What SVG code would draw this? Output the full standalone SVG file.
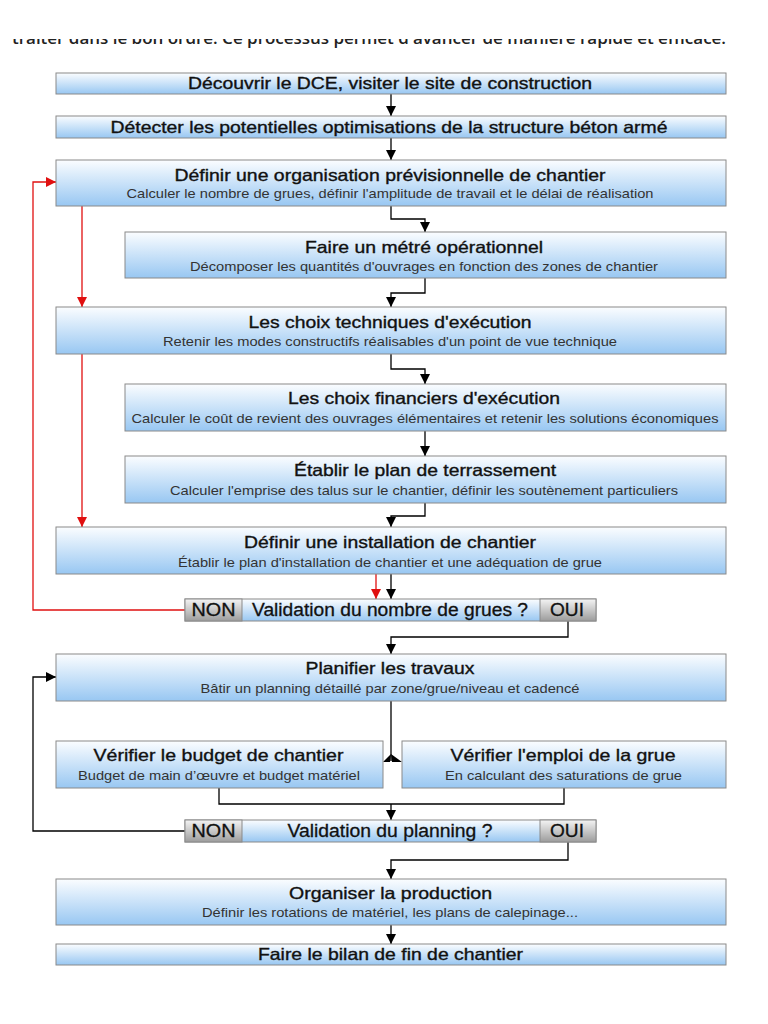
<svg xmlns="http://www.w3.org/2000/svg" width="768" height="1024" viewBox="0 0 768 1024">
<style>
.box{fill:url(#blue);stroke:#8a8a8a;stroke-width:1}
.gray{fill:url(#grey);stroke:#8a8a8a;stroke-width:1}
.t{font-family:"Liberation Sans",Arial,sans-serif;font-size:16.5px;fill:#111;stroke:#111;stroke-width:0.35;text-anchor:middle}
.s{font-family:"Liberation Sans",Arial,sans-serif;font-size:13px;fill:#333;text-anchor:middle}
.d{font-family:"Liberation Sans",Arial,sans-serif;font-size:18px;fill:#111;stroke:#111;stroke-width:0.3;text-anchor:middle}
.k{fill:none;stroke:#000;stroke-width:1.3}
.r{fill:none;stroke:#e01010;stroke-width:1.3}
.top{font-family:"Open Sans","Liberation Sans",sans-serif;font-size:16px;font-weight:600;fill:#222}
</style>
<defs>
<linearGradient id="blue" x1="0" y1="0" x2="0" y2="1">
<stop offset="0" stop-color="#fbfdff"/>
<stop offset="1" stop-color="#98c7f2"/>
</linearGradient>
<linearGradient id="grey" x1="0" y1="0" x2="0" y2="1">
<stop offset="0" stop-color="#f4f4f4"/>
<stop offset="1" stop-color="#9c9c9c"/>
</linearGradient>
<marker id="ak" markerUnits="userSpaceOnUse" markerWidth="10" markerHeight="11" refX="10" refY="5" orient="auto" viewBox="0 0 10 10">
<path d="M0,0 L10,5 L0,10 z" fill="#000"/>
</marker>
<marker id="ar" markerUnits="userSpaceOnUse" markerWidth="10" markerHeight="11" refX="10" refY="5" orient="auto" viewBox="0 0 10 10">
<path d="M0,0 L10,5 L0,10 z" fill="#e01010"/>
</marker>
<clipPath id="cut"><rect x="0" y="39" width="768" height="14"/></clipPath>
</defs>

<text class="top" x="12" y="44" textLength="714" lengthAdjust="spacingAndGlyphs" clip-path="url(#cut)">traiter dans le bon ordre. Ce processus permet d'avancer de manière rapide et efficace.</text>

<g id="connectors">
<path class="k" d="M391,94 V116" marker-end="url(#ak)"/>
<path class="k" d="M391,138 V160" marker-end="url(#ak)"/>
<path class="k" d="M391,206 V219 H425 V232" marker-end="url(#ak)"/>
<path class="k" d="M425,278 V293 H391 V307" marker-end="url(#ak)"/>
<path class="k" d="M391,354 V369 H425 V384" marker-end="url(#ak)"/>
<path class="k" d="M425,431 V456" marker-end="url(#ak)"/>
<path class="k" d="M425,503 V516 H391 V527" marker-end="url(#ak)"/>
<path class="k" d="M391,574 V599" marker-end="url(#ak)"/>
<path class="r" d="M376,574 V599" marker-end="url(#ar)"/>
<path class="r" d="M185,610 H33 V182 H56" marker-end="url(#ar)"/>
<path class="r" d="M82,206 V307" marker-end="url(#ar)"/>
<path class="r" d="M82,354 V527" marker-end="url(#ar)"/>
<path class="k" d="M568,621 V637 H391 V654" marker-end="url(#ak)"/>
<path class="k" d="M391,701 V761"/>
<path d="M383,762 L391,754 L392,762 z M402,762 L391,754 L390,762 z" fill="#000"/>
<path class="k" d="M219,788 V804 H564 V788"/>
<path class="k" d="M391,804 V820" marker-end="url(#ak)"/>
<path class="k" d="M185,831 H33 V677 H56" marker-end="url(#ak)"/>
<path class="k" d="M568,842 V860 H391 V879" marker-end="url(#ak)"/>
<path class="k" d="M391,925 V944" marker-end="url(#ak)"/>
</g>

<g id="n1">
<rect class="box" x="56" y="73" width="670" height="21"/>
<text class="t" x="390" y="89" textLength="404" lengthAdjust="spacingAndGlyphs">Découvrir le DCE, visiter le site de construction</text>
</g>
<g id="n2">
<rect class="box" x="56" y="116" width="670" height="22"/>
<text class="t" x="389" y="133" textLength="557" lengthAdjust="spacingAndGlyphs">Détecter les potentielles optimisations de la structure béton armé</text>
</g>
<g id="n3">
<rect class="box" x="56" y="160" width="670" height="46"/>
<text class="t" x="390" y="181" textLength="431" lengthAdjust="spacingAndGlyphs">Définir une organisation prévisionnelle de chantier</text>
<text class="s" x="390" y="198" textLength="527" lengthAdjust="spacingAndGlyphs">Calculer le nombre de grues, définir l'amplitude de travail et le délai de réalisation</text>
</g>
<g id="n4">
<rect class="box" x="125" y="232" width="601" height="46"/>
<text class="t" x="424" y="253" textLength="238" lengthAdjust="spacingAndGlyphs">Faire un métré opérationnel</text>
<text class="s" x="424" y="271" textLength="468" lengthAdjust="spacingAndGlyphs">Décomposer les quantités d'ouvrages en fonction des zones de chantier</text>
</g>
<g id="n5">
<rect class="box" x="56" y="307" width="670" height="47"/>
<text class="t" x="390" y="328" textLength="283" lengthAdjust="spacingAndGlyphs">Les choix techniques d'exécution</text>
<text class="s" x="390" y="346" textLength="454" lengthAdjust="spacingAndGlyphs">Retenir les modes constructifs réalisables d'un point de vue technique</text>
</g>
<g id="n6">
<rect class="box" x="125" y="384" width="601" height="47"/>
<text class="t" x="424" y="404" textLength="272" lengthAdjust="spacingAndGlyphs">Les choix financiers d'exécution</text>
<text class="s" x="425" y="423" textLength="587" lengthAdjust="spacingAndGlyphs">Calculer le coût de revient des ouvrages élémentaires et retenir les solutions économiques</text>
</g>
<g id="n7">
<rect class="box" x="125" y="456" width="601" height="47"/>
<text class="t" x="425" y="476" textLength="262" lengthAdjust="spacingAndGlyphs">Établir le plan de terrassement</text>
<text class="s" x="424" y="495" textLength="508" lengthAdjust="spacingAndGlyphs">Calculer l'emprise des talus sur le chantier, définir les soutènement particuliers</text>
</g>
<g id="n8">
<rect class="box" x="56" y="527" width="670" height="47"/>
<text class="t" x="390" y="548" textLength="292" lengthAdjust="spacingAndGlyphs">Définir une installation de chantier</text>
<text class="s" x="390" y="567" textLength="424" lengthAdjust="spacingAndGlyphs">Établir le plan d'installation de chantier et une adéquation de grue</text>
</g>
<g id="d1">
<rect class="box" x="185" y="599" width="411" height="22"/>
<rect class="gray" x="185" y="599" width="57" height="22"/>
<rect class="gray" x="540" y="599" width="56" height="22"/>
<text class="d" x="213.5" y="616" textLength="44" lengthAdjust="spacingAndGlyphs">NON</text>
<text class="d" x="390" y="616" textLength="276" lengthAdjust="spacingAndGlyphs">Validation du nombre de grues ?</text>
<text class="d" x="567" y="616" textLength="34" lengthAdjust="spacingAndGlyphs">OUI</text>
</g>
<g id="n10">
<rect class="box" x="56" y="654" width="670" height="47"/>
<text class="t" x="390" y="674" textLength="169" lengthAdjust="spacingAndGlyphs">Planifier les travaux</text>
<text class="s" x="390" y="693" textLength="379" lengthAdjust="spacingAndGlyphs">Bâtir un planning détaillé par zone/grue/niveau et cadencé</text>
</g>
<g id="n11">
<rect class="box" x="56" y="741" width="327" height="47"/>
<text class="t" x="218.5" y="761" textLength="250" lengthAdjust="spacingAndGlyphs">Vérifier le budget de chantier</text>
<text class="s" x="219" y="780" textLength="282" lengthAdjust="spacingAndGlyphs">Budget de main d’œuvre et budget matériel</text>
</g>
<g id="n12">
<rect class="box" x="402" y="741" width="324" height="47"/>
<text class="t" x="563" y="761" textLength="225" lengthAdjust="spacingAndGlyphs">Vérifier l'emploi de la grue</text>
<text class="s" x="563.5" y="780" textLength="237" lengthAdjust="spacingAndGlyphs">En calculant des saturations de grue</text>
</g>
<g id="d2">
<rect class="box" x="185" y="820" width="411" height="22"/>
<rect class="gray" x="185" y="820" width="57" height="22"/>
<rect class="gray" x="540" y="820" width="56" height="22"/>
<text class="d" x="213.5" y="837" textLength="44" lengthAdjust="spacingAndGlyphs">NON</text>
<text class="d" x="390" y="837" textLength="205" lengthAdjust="spacingAndGlyphs">Validation du planning ?</text>
<text class="d" x="567" y="837" textLength="34" lengthAdjust="spacingAndGlyphs">OUI</text>
</g>
<g id="n14">
<rect class="box" x="56" y="879" width="670" height="46"/>
<text class="t" x="390.5" y="899" textLength="203" lengthAdjust="spacingAndGlyphs">Organiser la production</text>
<text class="s" x="390" y="917" textLength="376" lengthAdjust="spacingAndGlyphs">Définir les rotations de matériel, les plans de calepinage...</text>
</g>
<g id="n15">
<rect class="box" x="56" y="944" width="670" height="21"/>
<text class="t" x="390.5" y="960" textLength="265" lengthAdjust="spacingAndGlyphs">Faire le bilan de fin de chantier</text>
</g>
</svg>
